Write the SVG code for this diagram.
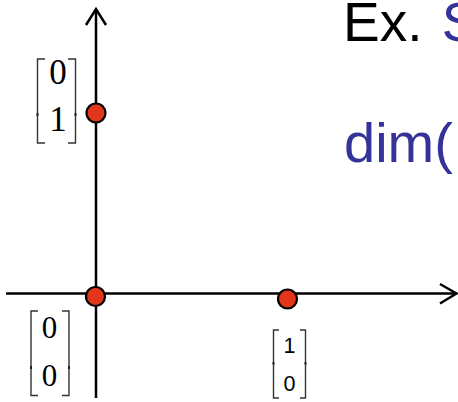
<svg xmlns="http://www.w3.org/2000/svg" width="458" height="402" viewBox="0 0 458 402">
<defs>
<style>
.axis{stroke:#000;stroke-width:2.5;fill:none;stroke-linecap:butt}
.dot{fill:#e2361a;stroke:#000;stroke-width:2.2}
.br{stroke:#333;stroke-width:1.4;fill:none}
.tick{stroke:#222;stroke-width:2}
.serif{font-family:"Liberation Serif","Times New Roman",serif;fill:#000;text-anchor:middle}
.sans{font-family:"Liberation Sans",Arial,sans-serif}
.blue{fill:#333399}
</style>
</defs>
<rect width="458" height="402" fill="#fff"/>
<g id="axes">
<line class="axis" x1="96" y1="9" x2="96" y2="398"/>
<polyline class="axis" points="86,25 96,9 106,25"/>
<line class="axis" x1="6" y1="293.5" x2="456" y2="293.5"/>
<polyline class="axis" points="440,284 456.5,293.5 440,303.5"/>
</g>
<g id="title">
<text class="sans" x="343" y="41" font-size="55"><tspan fill="#000">Ex. </tspan><tspan class="blue" dx="4">S</tspan></text>
<text class="sans blue" x="344" y="162" font-size="56">dim(</text>
</g>
<g id="p01">
<circle class="dot" cx="96" cy="113" r="9.5"/>
<path class="br" d="M45,59 H37.5 V143 H45 M68,59 H75.5 V143 H68"/>
<line class="tick" x1="37.5" y1="113" x2="37.5" y2="116"/>
<line class="tick" x1="75.5" y1="113" x2="75.5" y2="116"/>
<text class="serif" x="58" y="83.5" font-size="35">0</text>
<text class="serif" x="58" y="131" font-size="35">1</text>
</g>
<g id="p00">
<circle class="dot" cx="95.5" cy="296.5" r="9.5"/>
<path class="br" d="M38,311 H31 V395.5 H38 M62,311 H69 V395.5 H62"/>
<line class="tick" x1="31" y1="366" x2="31" y2="369"/>
<line class="tick" x1="69" y1="366" x2="69" y2="369"/>
<text class="serif" x="49.5" y="338.3" font-size="31">0</text>
<text class="serif" x="49.5" y="386" font-size="31">0</text>
</g>
<g id="p10">
<circle class="dot" cx="287.5" cy="299" r="9.5"/>
<path class="br" d="M279,330 H273.5 V398 H279 M300,330 H305.5 V398 H300"/>
<line class="tick" x1="273.5" y1="362" x2="273.5" y2="364.5"/>
<line class="tick" x1="305.5" y1="362" x2="305.5" y2="364.5"/>
<text class="sans" x="289.5" y="353.3" font-size="21.5" text-anchor="middle">1</text>
<text class="sans" x="289.5" y="390.7" font-size="21.5" text-anchor="middle">0</text>
</g>
</svg>
